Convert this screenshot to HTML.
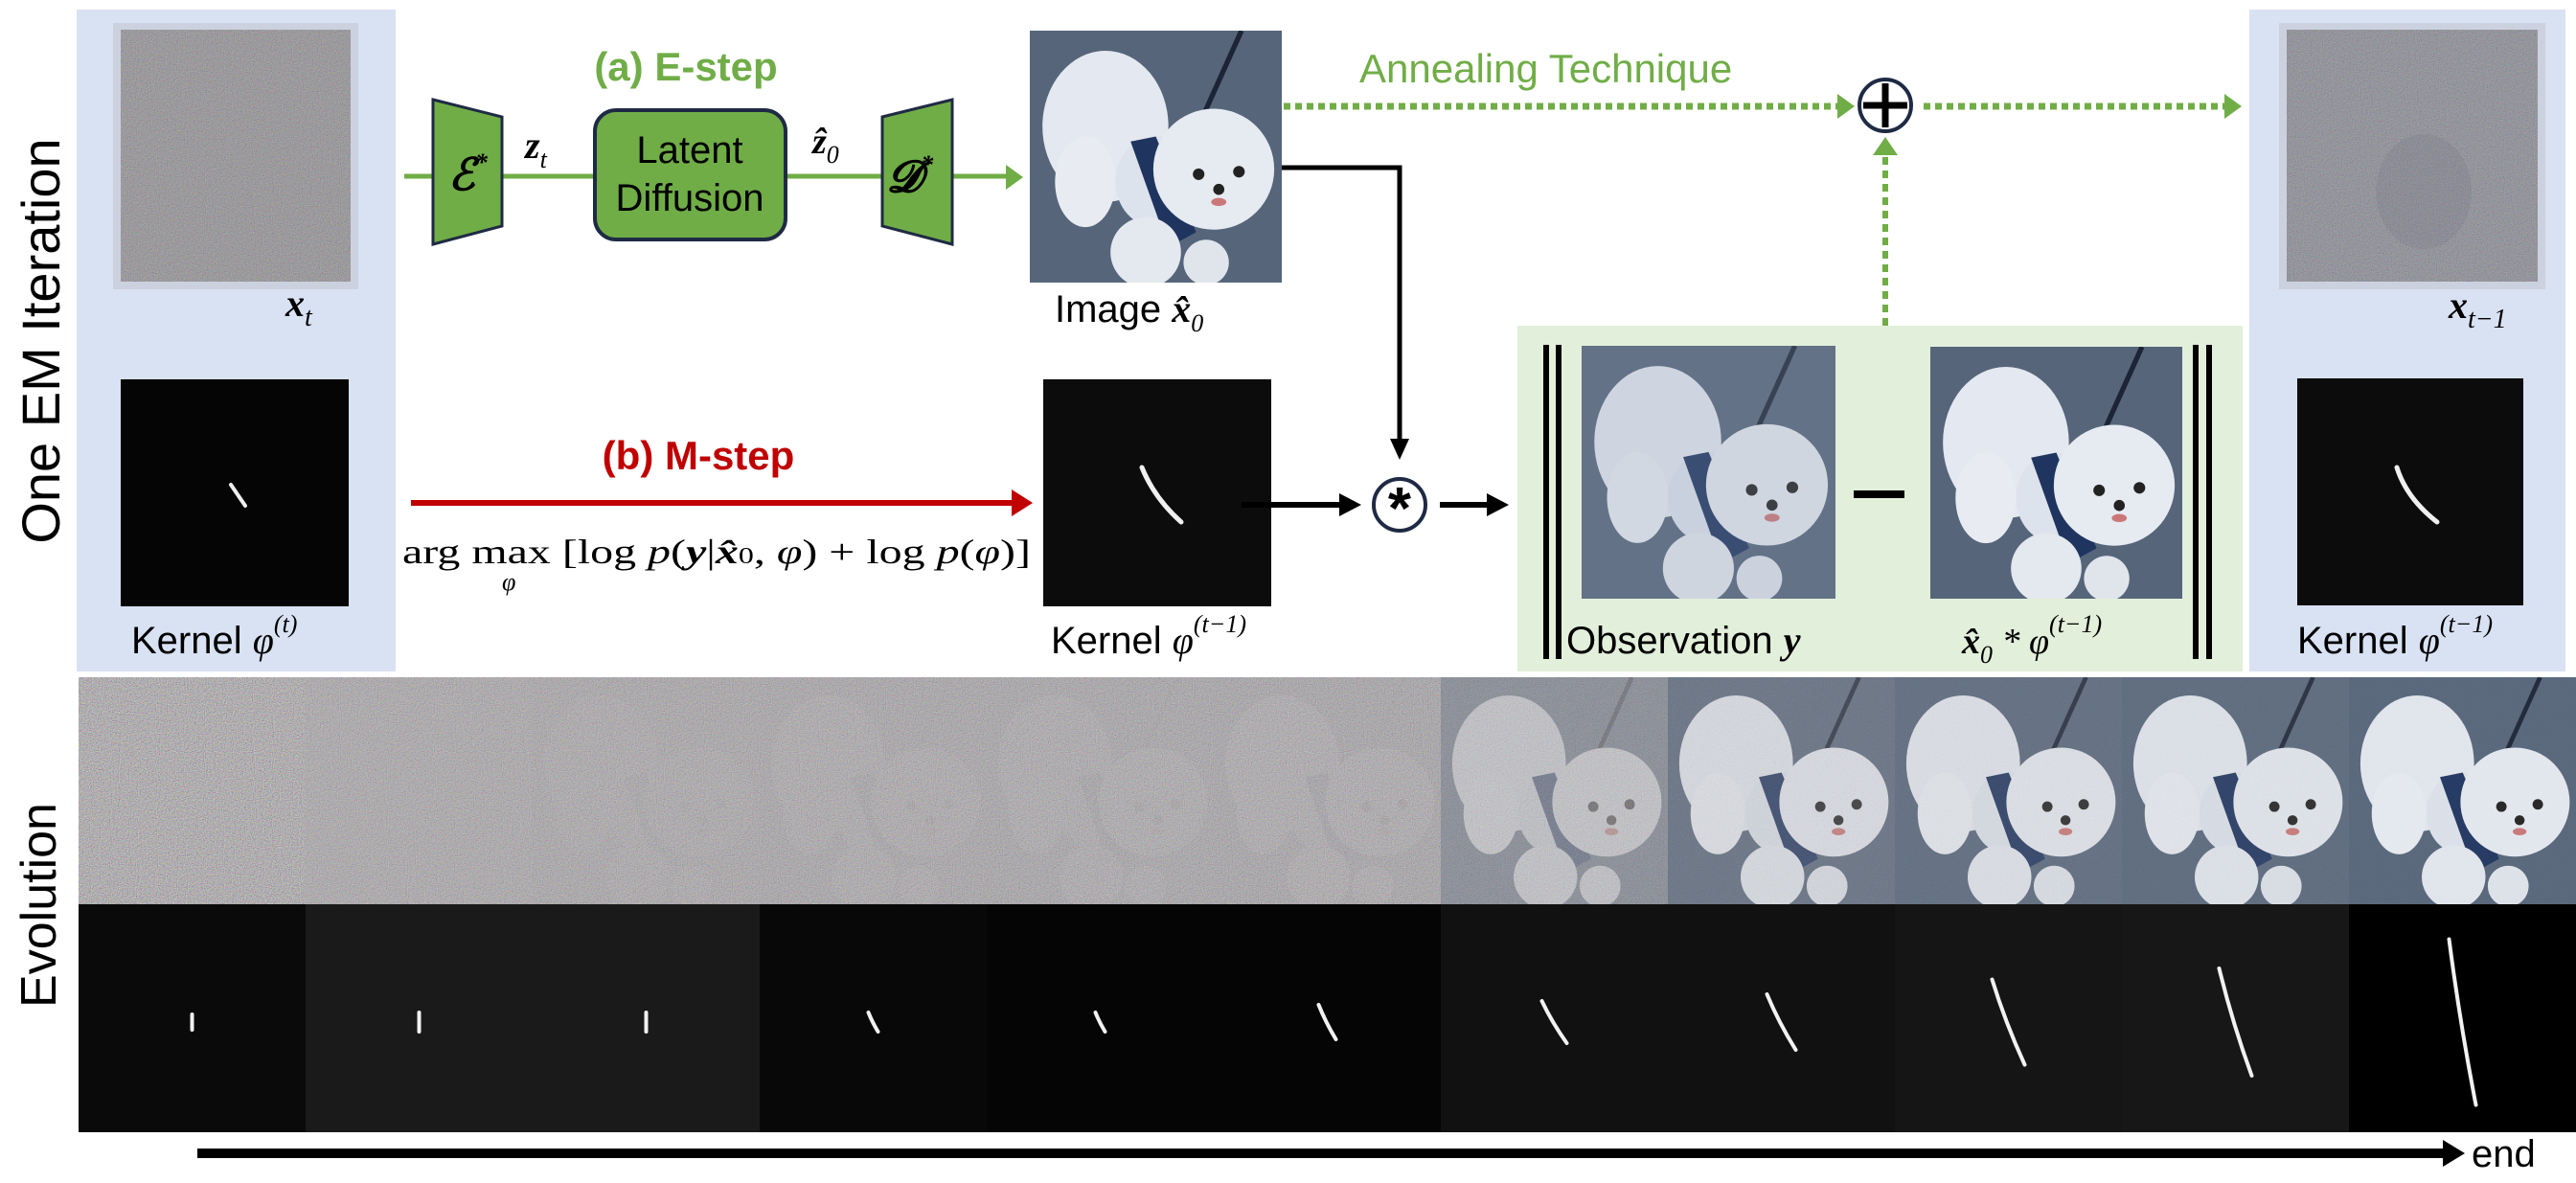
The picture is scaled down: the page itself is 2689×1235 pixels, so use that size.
<!DOCTYPE html>
<html><head><meta charset="utf-8"><style>
html,body{margin:0;padding:0;background:#fff;}
svg{display:block;}
.lbl{font-family:"Liberation Sans Narrow","Liberation Sans",sans-serif;}
.m{font-family:"Liberation Serif",serif;font-style:italic;}
</style></head><body>
<svg id="fig" width="2689" height="1235" viewBox="0 0 2689 1235" xmlns="http://www.w3.org/2000/svg">
<defs>
<filter id="noise" x="0" y="0" width="100%" height="100%">
<feTurbulence type="fractalNoise" baseFrequency="0.9" numOctaves="1" seed="3"/>
<feColorMatrix type="matrix" values="1.6 0 0 0 -0.3  0 1.6 0 0 -0.3  0 0 1.6 0 -0.3  0 0 0 0 1"/>
</filter>
<symbol id="dog" viewBox="0 0 100 100" preserveAspectRatio="none">
<rect width="100" height="100" fill="#56657a"/>
<line x1="84" y1="0" x2="66" y2="40" stroke="#1c2436" stroke-width="2"/>
<ellipse cx="30" cy="38" rx="25" ry="30" fill="#e4e8f0"/>
<ellipse cx="22" cy="60" rx="12" ry="18" fill="#e8ecf2"/>
<ellipse cx="50" cy="60" rx="16" ry="18" fill="#dde3ec"/>
<path d="M40 44 L50 42 L66 80 L55 86 Z" fill="#1f3560"/>
<circle cx="73" cy="55" r="24" fill="#e6eaf1"/>
<circle cx="46" cy="88" r="14" fill="#e4e8ef"/>
<circle cx="70" cy="92" r="9" fill="#e0e5ec"/>
<circle cx="67" cy="57" r="2.3" fill="#222"/>
<circle cx="83" cy="56" r="2.3" fill="#222"/>
<circle cx="75" cy="63" r="2.2" fill="#222"/>
<ellipse cx="75" cy="68" rx="3" ry="1.6" fill="#c77"/>
</symbol>
</defs>

<text transform="translate(62,356) rotate(-90)" text-anchor="middle" font-family="Liberation Sans,sans-serif" font-size="56" fill="#000">One EM Iteration</text>

<rect x="80" y="10" width="333" height="691" fill="#d9e2f3"/>
<g>
<rect x="118" y="24" width="256" height="278" fill="#c6cbd6" opacity="0.7"/>
<rect x="126" y="31" width="240" height="263" fill="#8c8a8e"/>
<rect x="126" y="31" width="240" height="263" filter="url(#noise)" opacity="0.35"/>
</g>
<text x="298" y="330" class="m" font-size="40" font-weight="bold">x<tspan font-size="28" font-weight="normal" dy="10">t</tspan></text>
<rect x="126" y="396" width="238" height="237" fill="#050505"/>
<line x1="241" y1="506" x2="256" y2="528" stroke="#f0f0f0" stroke-width="4" stroke-linecap="round"/>
<text x="137" y="682" class="lbl" font-size="40">Kernel <tspan class="m">φ</tspan><tspan class="m" font-size="26" dy="-22">(t)</tspan></text>

<text x="716" y="84" text-anchor="middle" class="lbl" font-size="42" font-weight="bold" fill="#70ad47">(a) E-step</text>
<line x1="422" y1="184" x2="1050" y2="184" stroke="#70ad47" stroke-width="5"/>
<polygon points="1050,172 1068,185 1050,198" fill="#70ad47"/>
<polygon points="452,104 524,122 524,236 452,255" fill="#70ad47" stroke="#1f2a44" stroke-width="3"/>
<text x="468" y="198" class="m" font-size="46" font-weight="bold">ℰ<tspan font-size="26" dy="-20">*</tspan></text>
<text x="548" y="165" class="m" font-size="40" font-weight="bold">z<tspan font-size="26" font-weight="normal" dy="10">t</tspan></text>
<rect x="621" y="115" width="199" height="135" rx="22" fill="#70ad47" stroke="#1f2a44" stroke-width="4"/>
<text x="720" y="170" text-anchor="middle" class="lbl" font-size="40">Latent</text>
<text x="720" y="220" text-anchor="middle" class="lbl" font-size="40">Diffusion</text>
<text x="848" y="160" class="m" font-size="38" font-weight="bold">ẑ<tspan font-size="26" font-weight="normal" dy="10">0</tspan></text>
<polygon points="921,122 994,104 994,255 921,236" fill="#70ad47" stroke="#1f2a44" stroke-width="3"/>
<text x="926" y="200" class="m" font-size="46" font-weight="bold">𝓓<tspan font-size="26" dy="-20">*</tspan></text>

<svg x="1075" y="32" width="263" height="263"><use href="#dog" width="263" height="263"/></svg>
<text x="1101" y="336" class="lbl" font-size="40">Image <tspan class="m" font-weight="bold">x̂</tspan><tspan class="m" font-size="26" dy="10">0</tspan></text>

<text x="1419" y="86" class="lbl" font-size="42" fill="#70ad47">Annealing Technique</text>
<line x1="1340" y1="111" x2="1918" y2="111" stroke="#70ad47" stroke-width="7" stroke-dasharray="7,5"/>
<polygon points="1918,98 1936,111 1918,124" fill="#70ad47"/>
<circle cx="1968" cy="110" r="27" fill="#fff" stroke="#1f2a44" stroke-width="4"/>
<line x1="1968" y1="87" x2="1968" y2="133" stroke="#000" stroke-width="7"/>
<line x1="1945" y1="110" x2="1991" y2="110" stroke="#000" stroke-width="7"/>
<line x1="2008" y1="111" x2="2322" y2="111" stroke="#70ad47" stroke-width="7" stroke-dasharray="7,5"/>
<polygon points="2322,98 2340,111 2322,124" fill="#70ad47"/>
<line x1="1968" y1="340" x2="1968" y2="162" stroke="#70ad47" stroke-width="6" stroke-dasharray="8,6"/>
<polygon points="1955,162 1968,143 1981,162" fill="#70ad47"/>

<polyline points="1338,175 1461,175 1461,462" fill="none" stroke="#000" stroke-width="5"/>
<polygon points="1451,458 1461,480 1471,458" fill="#000"/>

<text x="729" y="490" text-anchor="middle" class="lbl" font-size="42" font-weight="bold" fill="#c00000">(b) M-step</text>
<line x1="429" y1="525" x2="1058" y2="525" stroke="#c00000" stroke-width="6"/>
<polygon points="1056,511 1078,525 1056,539" fill="#c00000"/>
<text x="420" y="588" font-family="Liberation Serif,serif" font-size="36" textLength="656" lengthAdjust="spacingAndGlyphs">arg max [log <tspan font-style="italic">p</tspan>(<tspan font-style="italic" font-weight="bold">y</tspan>|<tspan font-style="italic" font-weight="bold">x̂</tspan><tspan font-size="24">0</tspan>, <tspan font-style="italic">φ</tspan>) + log <tspan font-style="italic">p</tspan>(<tspan font-style="italic">φ</tspan>)]</text>
<text x="524" y="616" font-family="Liberation Serif,serif" font-style="italic" font-size="26">φ</text>

<rect x="1089" y="396" width="238" height="237" fill="#0c0c0c"/>
<path d="M1192 488 Q1205 520 1233 545" fill="none" stroke="#f0f0f0" stroke-width="5" stroke-linecap="round"/>
<text x="1097" y="682" class="lbl" font-size="40">Kernel <tspan class="m">φ</tspan><tspan class="m" font-size="26" dy="-22">(t−1)</tspan></text>

<line x1="1296" y1="527" x2="1402" y2="527" stroke="#000" stroke-width="6"/>
<polygon points="1398,515 1421,527 1398,539" fill="#000"/>
<circle cx="1461" cy="527" r="27" fill="#fff" stroke="#1f2a44" stroke-width="4"/>
<text x="1461" y="552" text-anchor="middle" font-family="Liberation Sans,sans-serif" font-weight="bold" font-size="62">*</text>
<line x1="1503" y1="527" x2="1556" y2="527" stroke="#000" stroke-width="6"/>
<polygon points="1552,515 1575,527 1552,539" fill="#000"/>

<rect x="1584" y="340" width="757" height="361" fill="#e2efda"/>
<rect x="1611" y="360" width="6" height="328" fill="#000"/><rect x="1624" y="360" width="6" height="328" fill="#000"/>
<rect x="2289" y="360" width="6" height="328" fill="#000"/><rect x="2303" y="360" width="6" height="328" fill="#000"/>
<svg x="1651" y="361" width="265" height="264"><use href="#dog" width="265" height="264"/><rect width="265" height="264" fill="#8a9ab0" opacity="0.25"/></svg>
<rect x="1935" y="512" width="53" height="8" fill="#000"/>
<svg x="2015" y="362" width="263" height="263"><use href="#dog" width="263" height="263"/></svg>
<text x="1635" y="682" class="lbl" font-size="40">Observation <tspan class="m" font-weight="bold">y</tspan></text>
<text x="2048" y="682" class="m" font-size="38"><tspan font-weight="bold">x̂</tspan><tspan font-size="26" dy="10">0</tspan><tspan dy="-10"> * φ</tspan><tspan font-size="26" dy="-22">(t−1)</tspan></text>

<rect x="2348" y="10" width="330" height="691" fill="#d9e2f3"/>
<g>
<rect x="2379" y="24" width="278" height="278" fill="#c6cbd6" opacity="0.7"/>
<rect x="2387" y="31" width="262" height="263" fill="#858690"/>
<rect x="2387" y="31" width="262" height="263" filter="url(#noise)" opacity="0.3"/>
<ellipse cx="2530" cy="200" rx="50" ry="60" fill="#6d7080" opacity="0.2"/>
</g>
<text x="2556" y="332" class="m" font-size="40" font-weight="bold">x<tspan font-size="28" font-weight="normal" dy="10">t−1</tspan></text>
<rect x="2398" y="395" width="236" height="237" fill="#0c0c0c"/>
<path d="M2502 488 Q2512 520 2544 545" fill="none" stroke="#f0f0f0" stroke-width="5" stroke-linecap="round"/>
<text x="2398" y="682" class="lbl" font-size="40">Kernel <tspan class="m">φ</tspan><tspan class="m" font-size="26" dy="-22">(t−1)</tspan></text>

<text transform="translate(58,945) rotate(-90)" text-anchor="middle" font-family="Liberation Sans,sans-serif" font-size="52">Evolution</text>
<g id="evo"></g>

<rect x="206" y="1199" width="2350" height="10" fill="#000"/>
<polygon points="2550,1190 2573,1204 2550,1218" fill="#000"/>
<text x="2580" y="1218" class="lbl" font-size="40">end</text>
</svg>
<script>
// Evolution frames: kernel background brightness, kernel length (full), kernel tilt, image clarity
const frameIdx = [1,2,3,4,5,6,7,8,9,10,11];
const kernelBg = [10,26,26,8,5,5,17,17,21,23,0];
const kernelLen = [16,20,20,20,20,36,44,58,89,112,173];
const kernelTilt = [0,0,0,10,10,18,26,30,34,34,28];
const dogClarity = [0,0,0.02,0.03,0.04,0.05,0.45,0.8,0.88,0.93,1];
const NS = 'http://www.w3.org/2000/svg';
const evo = document.getElementById('evo');
const x0 = 82, colW = (2689 - 82) / frameIdx.length, topY = 707, midY = 944, botY = 1182;
function colX(i){ return x0 + i * colW; }
frameIdx.forEach((f, i) => {
  const x = colX(i);
  const g = document.createElementNS(NS, 'g');
  
  
  const bg = document.createElementNS(NS, 'rect');
  bg.setAttribute('x', x); bg.setAttribute('y', topY);
  bg.setAttribute('width', colW + 0.5); bg.setAttribute('height', midY - topY);
  bg.setAttribute('fill', i === 0 ? '#a29ca0' : '#a7a3a6');
  g.appendChild(bg);
  if (dogClarity[i] > 0) {
    const u = document.createElementNS(NS, 'use');
    u.setAttribute('href', '#dog');
    u.setAttribute('x', x); u.setAttribute('y', topY);
    u.setAttribute('width', colW + 0.5); u.setAttribute('height', midY - topY);
    u.setAttribute('opacity', dogClarity[i]);
    g.appendChild(u);
  }
  const nz = document.createElementNS(NS, 'rect');
  nz.setAttribute('x', x); nz.setAttribute('y', topY);
  nz.setAttribute('width', colW + 0.5); nz.setAttribute('height', midY - topY);
  nz.setAttribute('filter', 'url(#noise)');
  nz.setAttribute('opacity', i === 0 ? 0.6 : 0.35 * (1 - dogClarity[i]) + 0.05);
  g.appendChild(nz);
  const kb = document.createElementNS(NS, 'rect');
  kb.setAttribute('x', x); kb.setAttribute('y', midY);
  kb.setAttribute('width', colW + 0.5); kb.setAttribute('height', botY - midY);
  const v = kernelBg[i];
  kb.setAttribute('fill', 'rgb(' + v + ',' + v + ',' + v + ')');
  g.appendChild(kb);
  const cx = x + colW / 2, cy = (midY + botY) / 2 + 4;
  const L = kernelLen[i] / 2, t = kernelTilt[i] / 2;
  const path = document.createElementNS(NS, 'path');
  path.setAttribute('d', 'M' + (cx - t) + ' ' + (cy - L) + ' Q' + (cx - t * 0.2) + ' ' + cy + ' ' + (cx + t) + ' ' + (cy + L));
  path.setAttribute('fill', 'none');
  path.setAttribute('stroke', '#f2f2f2');
  path.setAttribute('stroke-width', 4);
  path.setAttribute('stroke-linecap', 'round');
  g.appendChild(path);
  evo.appendChild(g);
});
</script>
</body></html>
